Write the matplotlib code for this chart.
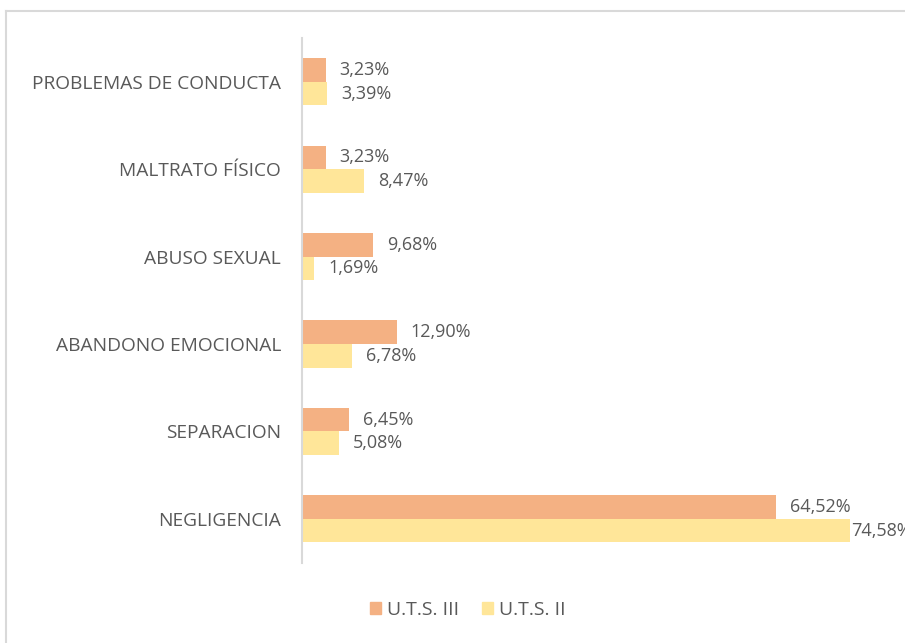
import matplotlib.pyplot as plt
from matplotlib.lines import Line2D
from matplotlib.patches import Patch

categories = ["PROBLEMAS DE CONDUCTA", "MALTRATO FÍSICO", "ABUSO SEXUAL",
              "ABANDONO EMOCIONAL", "SEPARACION", "NEGLIGENCIA"]
uts_iii = [3.23, 3.23, 9.68, 12.90, 6.45, 64.52]
uts_ii = [3.39, 8.47, 1.69, 6.78, 5.08, 74.58]
series_names = ["U.T.S. III", "U.T.S. II"]
colors = ["#F4B183", "#FFE699"]

plt.rcParams['font.family'] = ['Open Sans', 'DejaVu Sans']
text_color = "#595959"

W, H = 905, 643
fig = plt.figure(figsize=(W / 100, H / 100), dpi=100)
ax = fig.add_axes([302 / W, 1 - 562.5 / H, (W - 302) / W, (562.5 - 38) / H])

n = len(categories)
ypos = list(range(n))
bh = 0.27
ax.barh([y - bh / 2 for y in ypos], uts_iii, height=bh, color=colors[0])
ax.barh([y + bh / 2 for y in ypos], uts_ii, height=bh, color=colors[1])

xmax = (W - 302) / 7.35
for y, a, b in zip(ypos, uts_iii, uts_ii):
    for v, yy in ((a, y - bh / 2), (b, y + bh / 2)):
        # labels near the right edge sit tight against the bar end
        off = 0.5 if v > xmax * 0.88 else 10
        ax.annotate(f"{v:.2f}%".replace(".", ","), (v, yy), xytext=(off, 0),
                    textcoords="offset points", va="center", ha="left",
                    fontsize=13, color=text_color, annotation_clip=False)

ax.set_ylim(n - 0.5, -0.5)
ax.set_xlim(0, xmax)
ax.set_yticks(ypos)
ax.set_yticklabels(categories, fontsize=13.8, color=text_color)
ax.tick_params(axis="y", length=0, pad=15)
ax.set_xticks([])
for s in ["top", "right", "bottom"]:
    ax.spines[s].set_visible(False)
ax.spines["left"].set_color("#D9D9D9")
ax.spines["left"].set_linewidth(1.5)

handles = [Patch(color=c, label=l) for c, l in zip(colors, series_names)]
fig.legend(handles=handles, loc="center", bbox_to_anchor=(468 / W, 1 - 610 / H),
           ncol=2, frameon=False, fontsize=14, labelcolor=text_color,
           handlelength=0.55, handleheight=0.55, handletextpad=0.3, columnspacing=1.2)

# outer chart border (top and left visible)
fig.add_artist(Line2D([5.5 / W, 1], [1 - 11 / H, 1 - 11 / H], color="#D9D9D9", lw=1.5))
fig.add_artist(Line2D([5.5 / W, 5.5 / W], [0, 1 - 11 / H], color="#D9D9D9", lw=1.5))

fig.savefig("out.png", dpi=100, facecolor="white")
